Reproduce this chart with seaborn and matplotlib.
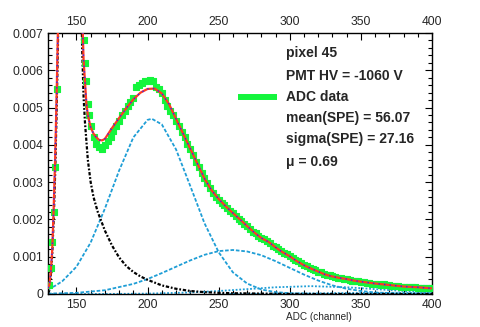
import matplotlib
matplotlib.use('Agg')

import matplotlib.pyplot as plt
import seaborn as sns
from matplotlib.ticker import MultipleLocator, FuncFormatter

# ---- data ----
# ADC data (green squares), channel -> normalised counts
data_x_left = [131, 132, 133, 134, 135, 136]
data_y_left = [0.00025, 0.0007, 0.0014, 0.0022, 0.0034, 0.0055]
data_x_mid = [155, 156, 157, 158, 159, 160]
data_y_mid = [0.0068, 0.0062, 0.0057, 0.0051, 0.0048, 0.0045]
data_x_main = list(range(162, 401, 2))
data_y_main = [
    0.0042, 0.00402, 0.00395, 0.0039, 0.004, 0.0041, 0.0042, 0.00436, 0.0045, 0.00465,
    0.00479, 0.0049, 0.00503, 0.00515, 0.00527, 0.00555, 0.0056, 0.00567, 0.0057, 0.00572,
    0.00575, 0.0057, 0.00555, 0.0055, 0.0054, 0.0052, 0.00505, 0.0049, 0.0048, 0.00465,
    0.0045, 0.00435, 0.0042, 0.00402, 0.0039, 0.00372, 0.00355, 0.0034, 0.00325, 0.0031,
    0.00298, 0.00283, 0.00272, 0.0026, 0.00253, 0.00245, 0.00238, 0.0023, 0.00222, 0.00217,
    0.0021, 0.00202, 0.00196, 0.00188, 0.00181, 0.00173, 0.00167, 0.00163, 0.00155, 0.0015,
    0.00147, 0.00143, 0.00138, 0.0013, 0.00125, 0.0012, 0.00115, 0.0011, 0.00106, 0.00102,
    0.00097, 0.00092, 0.00088, 0.00083, 0.00079, 0.00074, 0.0007, 0.00068, 0.00063, 0.0006,
    0.00058, 0.00054, 0.00052, 0.0005, 0.00048, 0.00045, 0.00044, 0.00043, 0.0004, 0.0004,
    0.00038, 0.00036, 0.00036, 0.00034, 0.00033, 0.00032, 0.0003, 0.0003, 0.00028, 0.00028,
    0.00027, 0.00025, 0.00026, 0.00024, 0.00024, 0.00022, 0.00022, 0.00021, 0.0002, 0.0002,
    0.00019, 0.00019, 0.00018, 0.00018, 0.00017, 0.00017, 0.00016, 0.00016, 0.00015, 0.00015,
]

# total fit (red)
fit_x = [130, 131, 132, 133, 134, 135, 136, 137, 138, 140, 146, 152, 154, 155, 156, 157, 158,
         160, 162, 164, 166, 168, 170, 175, 180, 185, 190, 195, 200, 205, 210, 215, 220, 225,
         230, 235, 240, 245, 250, 255, 260, 265, 270, 275, 280, 285, 290, 295, 300, 305, 310,
         315, 320, 325, 330, 335, 340, 345, 350, 360, 370, 380, 390, 400]
fit_y = [0.00016, 0.00025, 0.0006, 0.0012, 0.0023, 0.0036, 0.0052, 0.0071, 0.0095, 0.0165,
         0.05, 0.0125, 0.0076, 0.0063, 0.0057, 0.0051, 0.0048,
         0.00447, 0.0043, 0.0042, 0.00413, 0.00412, 0.00416, 0.00445, 0.00472, 0.00498,
         0.00522, 0.0054, 0.0055, 0.00551, 0.00538, 0.0051, 0.0047, 0.0043, 0.0039, 0.0035,
         0.0031, 0.00278, 0.00255, 0.00235, 0.00217, 0.002, 0.00182, 0.00165, 0.0015, 0.0014,
         0.00125, 0.00112, 0.00101, 0.00088, 0.00077, 0.00068, 0.0006, 0.00052, 0.00047,
         0.00043, 0.0004, 0.00036, 0.00033, 0.00028, 0.00024, 0.0002, 0.00018, 0.00015]

# pedestal (black)
ped_x = [130, 131, 132, 133, 134, 135, 136, 137, 138, 140, 146, 150, 152, 154, 155, 156, 157,
         158, 160, 162, 165, 167, 170, 175, 180, 185, 190, 195, 200, 210, 220, 230, 240, 250,
         260, 280, 300, 400]
ped_y = [0.00002, 0.0001, 0.0005, 0.0011, 0.002, 0.0032, 0.0048, 0.0067, 0.0092, 0.016, 0.05,
         0.02, 0.011, 0.0066, 0.0053, 0.0046, 0.0041, 0.0036, 0.003, 0.0026, 0.0022, 0.002,
         0.0017, 0.0013, 0.00098, 0.00075, 0.00059, 0.00047, 0.00038, 0.00023, 0.00014,
         0.00008, 0.00005, 0.00003, 0.00002, 0.00001, 0.0, 0.0]

# photo-electron components (cyan)
pe1_x = [130, 135, 140, 150, 160, 170, 180, 190, 200, 203, 210, 220, 230, 240, 250, 260, 270,
         280, 290, 300, 320, 400]
pe1_y = [0.00012, 0.00022, 0.00034, 0.00073, 0.00138, 0.00229, 0.00331, 0.0042, 0.00467,
         0.0047, 0.00455, 0.00388, 0.0029, 0.0019, 0.00112, 0.00058, 0.00028, 0.00012,
         0.00005, 0.00002, 0.0, 0.0]
pe2_x = [130, 150, 170, 190, 200, 210, 220, 230, 240, 250, 260, 270, 280, 290, 300, 310, 320,
         330, 340, 350, 360, 380, 400]
pe2_y = [0.00001, 0.00003, 0.0001, 0.00027, 0.0004, 0.00056, 0.00073, 0.0009, 0.00105, 0.00115,
         0.00118, 0.00114, 0.00104, 0.00088, 0.0007, 0.00052, 0.00036, 0.00023, 0.00014,
         0.00008, 0.00004, 0.00001, 0.0]
pe3_x = [130, 150, 180, 200, 230, 250, 270, 290, 315, 340, 360, 380, 400]
pe3_y = [0.0, 0.0, 0.000003, 0.00001, 0.00004, 0.00008, 0.00013, 0.00018, 0.00021, 0.00018,
         0.00013, 0.00008, 0.00004]
pe4_x = [250, 280, 300, 320, 340, 371, 400]
pe4_y = [0.0, 0.000005, 0.00001, 0.000017, 0.000025, 0.00003, 0.000026]

info_lines = ['pixel 45', 'PMT HV = -1060 V', 'ADC data',
              'mean(SPE) = 56.07', 'sigma(SPE) = 27.16', '\u03bc = 0.69']

GREEN = '#14f53c'
RED = '#ff3a22'
BLUE = '#2a2aff'
CYAN = '#1f9ed6'

sns.set_style('ticks')
plt.rcParams['font.family'] = ['Liberation Sans', 'DejaVu Sans']

fig = plt.figure(figsize=(4.8, 3.27), dpi=100)
ax = fig.add_axes([0.1, 0.101, 0.8, 0.798])

line_kw = dict(ax=ax, sort=False, estimator=None, errorbar=None, legend=False)

# components
sns.lineplot(x=pe1_x, y=pe1_y, color=CYAN, lw=1.3, linestyle=(0, (2, 1)), **line_kw)
sns.lineplot(x=pe2_x, y=pe2_y, color=CYAN, lw=1.3, linestyle=(0, (2, 1)), **line_kw)
sns.lineplot(x=pe3_x, y=pe3_y, color=CYAN, lw=1.3, linestyle=(0, (1, 1)), **line_kw)
sns.lineplot(x=pe4_x, y=pe4_y, color=CYAN, lw=1.3, linestyle=(0, (1, 1)), **line_kw)
sns.lineplot(x=ped_x, y=ped_y, color='black', lw=1.6, linestyle=(0, (1.5, 0.8, 0.8, 0.8)), **line_kw)

# data
for dx, dy in [(data_x_left, data_y_left), (data_x_mid, data_y_mid), (data_x_main, data_y_main)]:
    sns.scatterplot(x=dx, y=dy, ax=ax, marker='s', s=18, color=GREEN,
                    edgecolor=GREEN, linewidth=0.8, legend=False, zorder=3)

# fit
sns.lineplot(x=fit_x, y=fit_y, color=RED, lw=1.6, zorder=4, **line_kw)
sns.lineplot(x=fit_x, y=fit_y, color=BLUE, lw=1.0, linestyle=(0, (1, 3)), zorder=5, **line_kw)

ax.set_xlim(130, 400)
ax.set_ylim(0, 0.007)
ax.set_xlabel('')
ax.set_ylabel('')

ax.xaxis.set_major_locator(MultipleLocator(50))
ax.xaxis.set_minor_locator(MultipleLocator(10))
ax.yaxis.set_major_locator(MultipleLocator(0.001))
ax.yaxis.set_minor_locator(MultipleLocator(0.0002))
ax.yaxis.set_major_formatter(FuncFormatter(lambda v, _: '0' if abs(v) < 1e-9 else f'{v:.3f}'))

ax.tick_params(which='both', direction='in', top=True, right=True, labeltop=True,
               labelsize=8.7, pad=3.5, color='black', width=0.8)
ax.tick_params(which='major', length=5)
ax.tick_params(which='minor', length=2.8)
for sp in ax.spines.values():
    sp.set_color('black')
    sp.set_linewidth(1.0)

# info box
ys = [0.9245, 0.835, 0.754, 0.673, 0.592, 0.506]
for txt, y in zip(info_lines, ys):
    ax.text(0.62, y, txt, transform=ax.transAxes, fontsize=10, fontweight='bold',
            va='center', ha='left')
ax.plot([0.495, 0.596], [0.754, 0.754], transform=ax.transAxes, color=GREEN, lw=4.3,
        solid_capstyle='butt')

fig.text(0.733, 0.032, 'ADC (channel)', ha='right', va='center', fontsize=7.2)

fig.savefig('out.png', dpi=100)
